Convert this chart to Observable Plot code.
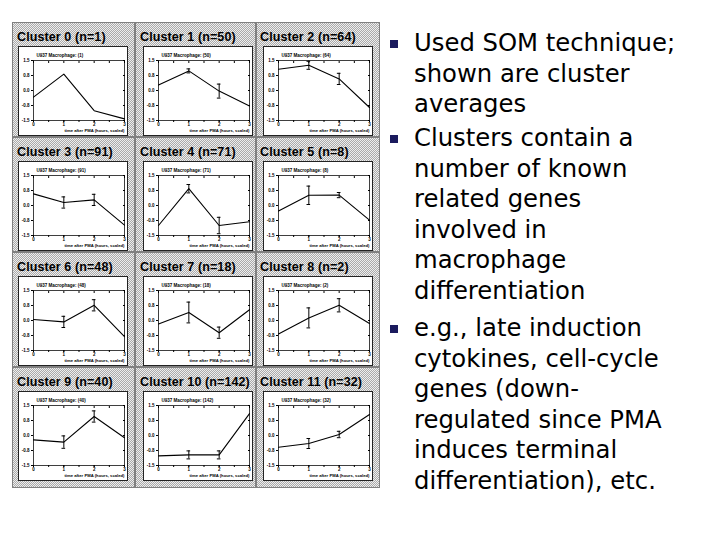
<!DOCTYPE html>
<html>
<head>
<meta charset="utf-8">
<script src="https://cdn.jsdelivr.net/npm/d3@7"></script>
<script src="https://cdn.jsdelivr.net/npm/@observablehq/plot@0.6"></script>
<style>
  html, body { margin: 0; padding: 0; background: #fff; }
  #page { position: relative; width: 720px; height: 540px; overflow: hidden; font-family: "DejaVu Sans", sans-serif; }
  .grid { position: absolute; left: 12px; top: 22px; width: 368px; height: 466px;
          background: repeating-conic-gradient(#aaaaaa 0 25%, #eeeeee 0 50%) 0 0 / 2px 2px; }
  .cell { position: absolute; box-sizing: border-box; border: 1px solid #808080; }
  .ctitle { position: absolute; font-family: "Liberation Sans", Arial, sans-serif; font-weight: bold;
            font-size: 12.5px; color: #000; white-space: nowrap; letter-spacing: 0.1px; }
  .box { position: absolute; }
  .box svg { display: block; border: 1px solid #222; }
  .bullet { position: absolute; width: 8px; height: 8px; background: #1b1b5e; }
  .para { position: absolute; left: 414px; font-size: 24.3px; line-height: 30.6px; color: #000; white-space: nowrap; }
</style>
</head>
<body>
<div id="page"></div>
<script>
// ---- data ----
const clusterIds = [0, 1, 2, 3, 4, 5, 6, 7, 8, 9, 10, 11];
const clusterSizes = [1, 50, 64, 91, 71, 8, 48, 18, 2, 40, 142, 32];
const timePoints = [0, 1, 2, 3];
const xTickLabels = ["0", "1", "2", "3"];
const yTicks = [-1.5, -0.75, 0, 0.75, 1.5];
const meanC0 = [-0.33, 0.82, -1.01, -1.42];
const meanC1 = [0.27, 0.98, -0.03, -0.77];
const meanC2 = [1.06, 1.26, 0.58, -0.85];
const meanC3 = [0.58, 0.15, 0.28, -0.98];
const meanC4 = [-1.0, 0.84, -1.0, -0.81];
const meanC5 = [-0.28, 0.51, 0.52, -0.73];
const meanC6 = [0.05, -0.07, 0.76, -0.81];
const meanC7 = [-0.18, 0.40, -0.61, 0.54];
const meanC8 = [-0.68, 0.13, 0.76, -0.15];
const meanC9 = [-0.22, -0.33, 0.95, -0.11];
const meanC10 = [-1.02, -0.97, -0.97, 1.09];
const meanC11 = [-0.59, -0.40, 0.05, 1.05];
const errC0 = [0, 0, 0, 0];
const errC1 = [0, 0.10, 0.35, 0];
const errC2 = [0, 0.20, 0.28, 0];
const errC3 = [0, 0.28, 0.28, 0];
const errC4 = [0, 0.21, 0.41, 0];
const errC5 = [0, 0.46, 0.13, 0];
const errC6 = [0, 0.28, 0.28, 0];
const errC7 = [0, 0.52, 0.28, 0];
const errC8 = [0, 0.50, 0.33, 0];
const errC9 = [0, 0.31, 0.28, 0];
const errC10 = [0, 0.20, 0.20, 0];
const errC11 = [0, 0.25, 0.16, 0];
const subtitleLabel = "U937 Macrophage: ";
const xAxisLabel = "time after PMA (hours, scaled)";
const bulletParas = [
  ["Used SOM technique;", "shown are cluster", "averages"],
  ["Clusters contain a", "number of known", "related genes", "involved in", "macrophage", "differentiation"],
  ["e.g., late induction", "cytokines, cell-cycle", "genes (down-", "regulated since PMA", "induces terminal", "differentiation), etc."]
];

const means = [meanC0, meanC1, meanC2, meanC3, meanC4, meanC5, meanC6, meanC7, meanC8, meanC9, meanC10, meanC11];
const errs = [errC0, errC1, errC2, errC3, errC4, errC5, errC6, errC7, errC8, errC9, errC10, errC11];

// ---- layout ----
const page = document.getElementById("page");
const grid = document.createElement("div");
grid.className = "grid";
page.appendChild(grid);

const cellLeft = [0, 123, 244];
const cellW = [123, 121, 124];
const cellTop = [0, 115, 230, 345];
const cellH = [115, 115, 115, 121];
const boxLeft = [5, 7, 6];
const titleLeft = [4, 4, 3];

clusterIds.forEach((id, i) => {
  const col = i % 3, row = Math.floor(i / 3);
  const cell = document.createElement("div");
  cell.className = "cell";
  Object.assign(cell.style, {left: cellLeft[col] + "px", top: cellTop[row] + "px", width: cellW[col] + "px", height: cellH[row] + "px"});
  grid.appendChild(cell);

  const t = document.createElement("div");
  t.className = "ctitle";
  t.textContent = `Cluster ${id} (n=${clusterSizes[i]})`;
  Object.assign(t.style, {left: titleLeft[col] + "px", top: "7px"});
  cell.appendChild(t);

  const data = timePoints.map((x, k) => ({x, y: means[i][k], e: errs[i][k]}));
  const withErr = data.filter(d => d.e > 0);
  const box = document.createElement("div");
  box.className = "box";
  Object.assign(box.style, {left: boxLeft[col] + "px", top: "23px"});
  const svg = Plot.plot({
    width: 108, height: 88,
    marginTop: 13, marginBottom: 15, marginLeft: 14, marginRight: 3,
    x: {domain: [0, 3]},
    y: {domain: [-1.5, 1.5]},
    style: {background: "white", fontFamily: "Liberation Sans, Arial, sans-serif", overflow: "visible"},
    marks: [
      Plot.frame({stroke: "#111", strokeWidth: 0.8}),
      Plot.axisX({anchor: "bottom", ticks: timePoints, tickFormat: (d, k) => xTickLabels[k], tickSize: 2, fontSize: 4.5, label: null, tickPadding: 0.5, fontWeight: "bold"}),
      Plot.axisX({anchor: "bottom", ticks: d3.range(0, 3.01, 0.5), tickFormat: () => "", tickSize: 2, label: null}),
      Plot.axisX({anchor: "top", ticks: d3.range(0, 3.01, 0.5), tickFormat: () => "", tickSize: -2, label: null}),
      Plot.axisY({ticks: yTicks, tickFormat: d => d.toFixed(1), tickSize: 2, fontSize: 4.5, label: null, tickPadding: 2, fontWeight: "bold"}),
      Plot.axisY({anchor: "right", ticks: yTicks, tickFormat: () => "", tickSize: -2, label: null}),
      Plot.text([`${subtitleLabel}(${clusterSizes[i]})`], {frameAnchor: "top-left", dx: 3, dy: -7, fontSize: 4.5, fontWeight: "bold", textAnchor: "start"}),
      Plot.text([xAxisLabel], {frameAnchor: "bottom-right", dy: 11.5, fontSize: 4.2, fontWeight: "bold", textAnchor: "end"}),
      Plot.line(data, {x: "x", y: "y", stroke: "#000", strokeWidth: 1.1}),
      Plot.ruleX(withErr, {x: "x", y1: d => d.y - d.e, y2: d => d.y + d.e, stroke: "#000", strokeWidth: 1}),
      Plot.ruleY(withErr, {y: d => d.y - d.e, x1: d => d.x - 0.06, x2: d => d.x + 0.06, stroke: "#000", strokeWidth: 1}),
      Plot.ruleY(withErr, {y: d => d.y + d.e, x1: d => d.x - 0.06, x2: d => d.x + 0.06, stroke: "#000", strokeWidth: 1})
    ]
  });
  box.appendChild(svg);
  cell.appendChild(box);
});

// ---- bullets ----
const paraTops = [28, 123, 313];
bulletParas.forEach((lines, p) => {
  const b = document.createElement("div");
  b.className = "bullet";
  Object.assign(b.style, {left: "390px", top: (paraTops[p] + 12) + "px"});
  page.appendChild(b);
  const d = document.createElement("div");
  d.className = "para";
  d.style.top = paraTops[p] + "px";
  d.innerHTML = lines.join("<br>");
  page.appendChild(d);
});
</script>
</body>
</html>
